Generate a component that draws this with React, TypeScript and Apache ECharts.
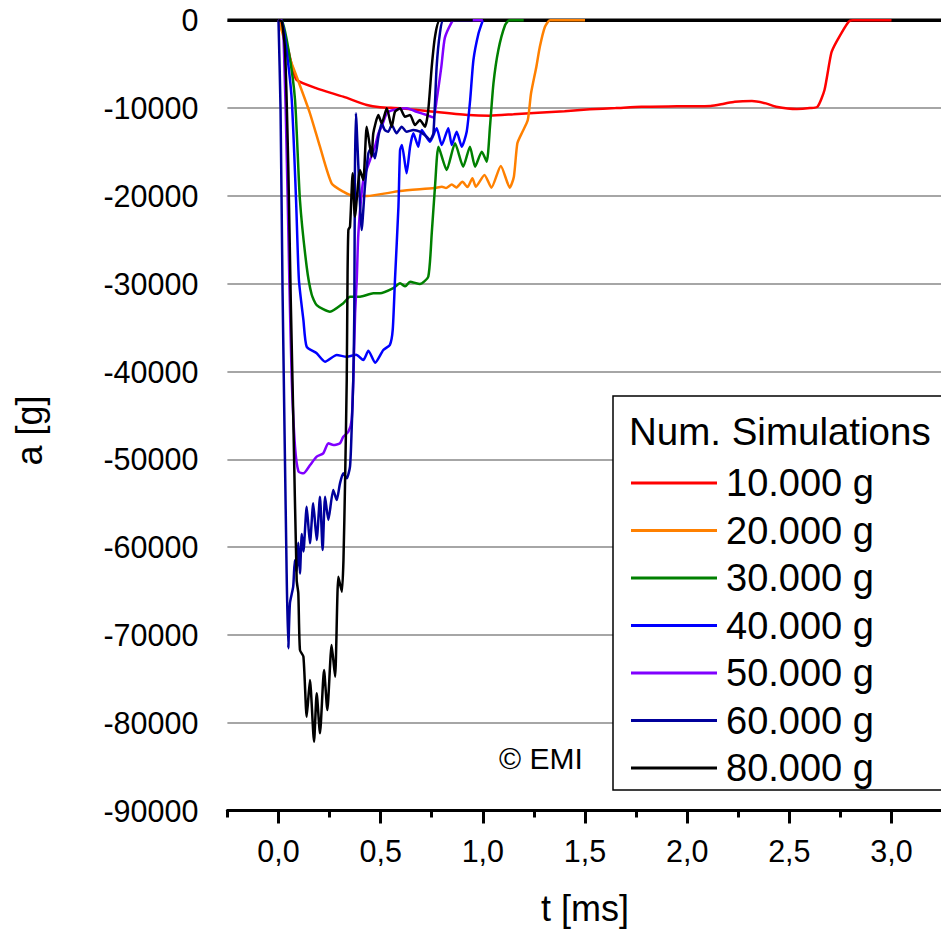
import React, { useEffect, useRef } from "react";
import * as echarts from "echarts";

const FONT = '"Liberation Sans", Arial, sans-serif';

const LEGEND_TITLE = "Num. Simulations";
const SERIES_NAMES = ["10.000 g", "20.000 g", "30.000 g", "40.000 g", "50.000 g", "60.000 g", "80.000 g"];
const SERIES_COLORS = ["#ff0000", "#ff8000", "#008000", "#0000ff", "#8000ff", "#00009c", "#000000"];

const X_MAJOR_TICKS = [0, 0.5, 1.0, 1.5, 2.0, 2.5, 3.0];
const X_MINOR_TICKS = [-0.25, 0.25, 0.75, 1.25, 1.75, 2.25, 2.75, 3.25];

const ZERO_LINE = [[-0.25, 0], [3.25, 0]];

const S10 = [
  [0, 0], [0.02, -1200], [0.048, -3400], [0.07, -5600], [0.089, -6800], [0.187, -7750], [0.317, -8700],
  [0.432, -9650], [0.497, -9910], [0.594, -10020], [0.763, -10410], [0.932, -10790], [1.034, -10860],
  [1.15, -10700], [1.27, -10520], [1.4, -10350], [1.524, -10140], [1.65, -10000], [1.777, -9840],
  [1.95, -9800], [2.115, -9760], [2.18, -9500], [2.233, -9270], [2.317, -9190], [2.385, -9460],
  [2.435, -9840], [2.537, -10100], [2.6, -10000], [2.638, -9840], [2.672, -7940], [2.705, -3760],
  [2.731, -2440], [2.79, -160], [2.81, 0], [3.0, 0],
];

const S20 = [
  [0, 0], [0.02, -1500], [0.04, -3380], [0.089, -6420], [0.154, -10590], [0.203, -14400], [0.26, -18570],
  [0.317, -19520], [0.366, -20010], [0.432, -20010], [0.595, -19450], [0.763, -19100], [0.8, -18950],
  [0.82, -19100], [0.848, -18700], [0.87, -19050], [0.9, -18400], [0.925, -19000], [0.949, -18000],
  [0.966, -18950], [1.008, -17620], [1.042, -19060], [1.088, -16590], [1.132, -19060], [1.152, -17810],
  [1.169, -14010], [1.194, -12690], [1.22, -11360], [1.236, -8310], [1.262, -5280], [1.279, -3010],
  [1.304, -730], [1.329, 0], [1.5, 0],
];

const S30 = [
  [0, 0], [0.016, 0], [0.05, -3500], [0.081, -9080], [0.105, -20470], [0.138, -28070], [0.162, -31200],
  [0.187, -32430], [0.252, -33190], [0.317, -32230], [0.35, -31480], [0.399, -31480], [0.464, -31100],
  [0.497, -31100], [0.562, -30500], [0.595, -29960], [0.62, -30300], [0.644, -29770], [0.692, -30040],
  [0.733, -29200], [0.75, -24260], [0.767, -18570], [0.783, -14400], [0.823, -17050], [0.864, -14010],
  [0.904, -16670], [0.937, -14400], [0.962, -16670], [0.995, -14970], [1.019, -16100], [1.035, -12120],
  [1.052, -7180], [1.076, -3380], [1.109, -540], [1.13, 0], [1.2, 0],
];

const S40 = [
  [0, 0], [0.016, 0], [0.04, -3500], [0.065, -9080], [0.086, -20470], [0.1, -29580], [0.122, -34140],
  [0.138, -37180], [0.187, -37930], [0.228, -38890], [0.285, -38120], [0.334, -38320], [0.38, -38100],
  [0.415, -38690], [0.44, -37630], [0.473, -39000], [0.513, -37550], [0.545, -36980], [0.559, -35270],
  [0.57, -29580], [0.587, -21230], [0.595, -14770], [0.604, -14200], [0.627, -17430], [0.644, -14400],
  [0.66, -12870], [0.684, -14400], [0.701, -12490], [0.741, -13830], [0.774, -12300], [0.799, -14200],
  [0.831, -12300], [0.848, -14200], [0.872, -12690], [0.897, -14400], [0.921, -12690], [0.938, -9080],
  [0.954, -4520], [0.979, -1480], [1.0, 0],
];

const S50 = [
  [0, 0], [0.016, 0], [0.035, -10000], [0.053, -29580], [0.065, -40970], [0.081, -48570], [0.098, -51410],
  [0.122, -51600], [0.155, -50650], [0.187, -49700], [0.219, -49320], [0.244, -48180], [0.269, -48370],
  [0.301, -48180], [0.317, -47430], [0.342, -46860], [0.358, -45530], [0.366, -40970], [0.375, -33370],
  [0.383, -29580], [0.391, -24260], [0.415, -18190], [0.448, -15910], [0.472, -14400], [0.489, -12870],
  [0.505, -12120], [0.53, -10590], [0.562, -10220], [0.627, -10020], [0.676, -10410], [0.725, -10790],
  [0.758, -11050], [0.774, -9080], [0.797, -5280], [0.814, -2000], [0.848, -200], [0.86, 0], [1.0, 0],
];

const S60 = [
  [0, 0], [0.01, -10000], [0.02, -31000], [0.04, -63000], [0.048, -71530], [0.056, -66400], [0.072, -64510],
  [0.08, -61500], [0.089, -62800], [0.097, -59500], [0.105, -63000], [0.114, -58500], [0.122, -60500],
  [0.138, -55400], [0.154, -59570], [0.17, -55010], [0.187, -59200], [0.203, -54260], [0.216, -60330],
  [0.228, -54260], [0.244, -56910], [0.268, -53500], [0.285, -54640], [0.301, -52740], [0.317, -51600],
  [0.334, -52170], [0.35, -50840], [0.358, -46670], [0.366, -40970], [0.371, -33370], [0.374, -17430],
  [0.379, -10590], [0.391, -16670], [0.407, -23880], [0.423, -18950], [0.44, -15150], [0.456, -14500],
  [0.472, -15720], [0.489, -13260], [0.505, -11730], [0.52, -12500], [0.537, -12690], [0.554, -11930],
  [0.578, -12870], [0.603, -12120], [0.627, -12690], [0.66, -12490], [0.692, -12690], [0.725, -13260],
  [0.741, -13630], [0.758, -12870], [0.774, -5280], [0.79, -1480], [0.807, 0], [0.95, 0],
];

const S80 = [
  [0, 0], [0.016, -100], [0.032, -3380], [0.048, -16670], [0.06, -31860], [0.072, -44760], [0.089, -63760],
  [0.097, -65260], [0.105, -71720], [0.122, -72480], [0.138, -79320], [0.154, -75140], [0.174, -82160],
  [0.187, -76650], [0.203, -81210], [0.223, -74000], [0.239, -78560], [0.26, -71150], [0.277, -74760],
  [0.293, -63380], [0.31, -65090], [0.318, -61480], [0.326, -52360], [0.334, -40970], [0.338, -29000],
  [0.342, -23880], [0.35, -23500], [0.363, -17430], [0.374, -22370], [0.399, -17050], [0.415, -18190],
  [0.432, -12120], [0.456, -15540], [0.464, -12870], [0.489, -10790], [0.505, -11730], [0.53, -10020],
  [0.554, -12120], [0.57, -10410], [0.595, -10020], [0.619, -10980], [0.644, -10790], [0.668, -11930],
  [0.692, -11360], [0.717, -12120], [0.733, -10220], [0.75, -5280], [0.766, -1870], [0.79, 0], [0.95, 0],
];

const SERIES_DATA = [S10, S20, S30, S40, S50, S60, S80];

export default function App() {
  const ref = useRef<HTMLDivElement>(null);

  useEffect(() => {
    if (!ref.current) return;
    const chart = echarts.init(ref.current, null, { renderer: "svg" });

    const lineSeries = SERIES_NAMES.map((name, i) => ({
      name,
      type: "line",
      data: SERIES_DATA[i],
      showSymbol: false,
      symbol: "none",
      smooth: 0.2,
      color: SERIES_COLORS[i],
      lineStyle: { color: SERIES_COLORS[i], width: 2.5 },
      silent: true,
    }));

    chart.setOption({
      animation: false,
      backgroundColor: "#ffffff",
      textStyle: { fontFamily: FONT },
      title: {
        text: LEGEND_TITLE,
        left: 629,
        top: 412,
        padding: 0,
        textStyle: { fontSize: 38.5, fontWeight: "normal", color: "#000", fontFamily: FONT },
      },
      legend: {
        data: SERIES_NAMES,
        orient: "vertical",
        left: 631,
        top: 463,
        padding: 0,
        itemWidth: 86,
        itemHeight: 3,
        itemGap: 7.5,
        icon: "rect",
        selectedMode: false,
        textStyle: { fontSize: 38, lineHeight: 40, color: "#000", fontFamily: FONT, padding: [0, 0, 0, 4] },
      },
      graphic: {
        elements: [
          {
            type: "rect",
            z: 3,
            shape: { x: 613, y: 396, width: 345, height: 394 },
            style: { fill: "#ffffff", stroke: "#000000", lineWidth: 1.5 },
          },
          {
            type: "text",
            z: 5,
            x: 499,
            y: 758,
            style: { text: "© EMI", font: `30px ${FONT}`, fill: "#000", verticalAlign: "middle" },
          },
        ],
      },
      grid: {
        left: 227.4,
        top: 20.3,
        width: 715.2,
        height: 790.2,
        containLabel: false,
        outerBoundsMode: "none",
      },
      xAxis: [
        {
          type: "value",
          min: -0.25,
          max: 3.25,
          position: "bottom",
          axisLine: { show: true, onZero: false, lineStyle: { color: "#000", width: 3 } },
          axisTick: { show: true, customValues: X_MAJOR_TICKS, length: 13, lineStyle: { color: "#000", width: 3 } },
          axisLabel: {
            customValues: X_MAJOR_TICKS,
            formatter: (v: number) => v.toFixed(1).replace(".", ","),
            fontSize: 30.5,
            color: "#000",
            margin: 25,
            fontFamily: FONT,
          },
          splitLine: { show: false },
          name: "t [ms]",
          nameLocation: "middle",
          nameGap: 80,
          nameTextStyle: { fontSize: 36, color: "#000", fontFamily: FONT },
        },
        {
          type: "value",
          min: -0.25,
          max: 3.25,
          position: "bottom",
          axisLine: { show: false, onZero: false },
          axisTick: { show: true, customValues: X_MINOR_TICKS, length: 7, lineStyle: { color: "#000", width: 3 } },
          axisLabel: { show: false },
          splitLine: { show: false },
        },
      ],
      yAxis: {
        type: "value",
        min: -90000,
        max: 0,
        interval: 10000,
        axisLine: { show: false },
        axisTick: { show: false },
        axisLabel: {
          fontSize: 30.5,
          color: "#000",
          margin: 29,
          fontFamily: FONT,
          formatter: (v: number) => String(Math.round(v)),
        },
        splitLine: { show: true, lineStyle: { color: "#a6a6a6", width: 2 } },
        name: "a [g]",
        nameLocation: "middle",
        nameGap: 180,
        nameTextStyle: { fontSize: 36, color: "#000", fontFamily: FONT, padding: [0, 30, 0, 0] },
      },
      series: [
        {
          name: "__zero",
          type: "line",
          data: ZERO_LINE,
          showSymbol: false,
          symbol: "none",
          silent: true,
          clip: false,
          lineStyle: { color: "#000", width: 3.5 },
        },
        ...lineSeries,
      ],
    });

    return () => chart.dispose();
  }, []);

  return (
    <div
      ref={ref}
      style={{ position: "absolute", left: 0, top: 0, width: 941, height: 933, background: "#fff" }}
    />
  );
}
